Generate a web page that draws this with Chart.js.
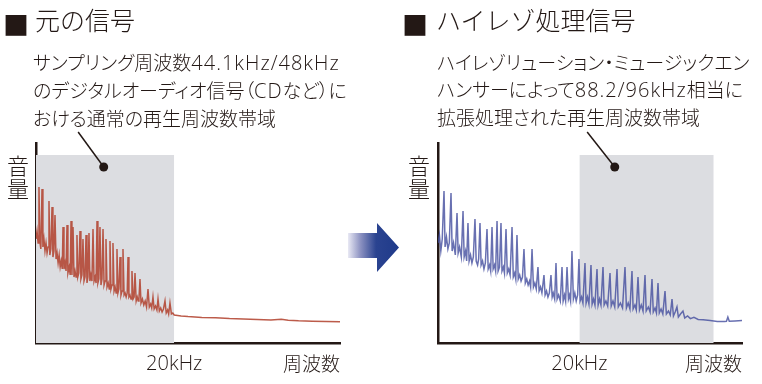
<!DOCTYPE html>
<html lang="ja">
<head>
<meta charset="utf-8">
<script src="https://cdn.jsdelivr.net/npm/chart.js"></script>
<style>
  body { margin: 0; width: 762px; height: 384px; background: #fff; position: relative; overflow: hidden;
         font-family: "Noto Sans CJK JP", sans-serif; font-weight: 300; color: #231815; }
  canvas { position: absolute; top: 0; }
  #origChart { left: 0; }
  #hiresChart { left: 380px; }
  .t { position: absolute; white-space: nowrap; z-index: 2; }
  .sq { font-size: 26px; line-height: 26px; top: 11px; font-weight: 400; }
  .title { font-size: 25px; line-height: 25px; top: 7px; }
  .note { font-size: 19px; line-height: 27px; top: 48px; font-feature-settings: "palt"; }
  .lat { font-family: "Open Sans", "Noto Sans CJK JP", sans-serif; font-size: 20px; letter-spacing: 1px; }
  .vol { font-size: 22px; line-height: 23px; top: 153px; width: 22px; text-align: center; }
  #arrow { position: absolute; left: 348px; top: 223px; width: 51px; height: 49px;
           background: linear-gradient(to right, #e9e9f4 0%, #8a90c0 25%, #2a4390 55%, #1f3a8a 100%);
           clip-path: polygon(0 10px, 29px 10px, 29px 0, 51px 24.5px, 29px 49px, 29px 35px, 0 35px); }
</style>
</head>
<body>
<div class="t sq" style="left:3px">■</div>
<div class="t title" style="left:35px">元の信号</div>
<div class="t note" style="left:33px">サンプリング周波数<span class="lat">44.1kHz/48kHz</span><br>のデジタルオーディオ信号（<span class="lat">CD</span>など）に<br>おける通常の再生周波数帯域</div>
<div class="t vol" style="left:7px">音<br>量</div>

<div class="t sq" style="left:402px">■</div>
<div class="t title" style="left:436px">ハイレゾ処理信号</div>
<div class="t note" style="left:437px">ハイレゾリューション・ミュージックエン<br>ハンサーによって<span class="lat">88.2/96kHz</span>相当に<br>拡張処理された再生周波数帯域</div>
<div class="t vol" style="left:408px">音<br>量</div>

<div id="arrow"></div>

<canvas id="origChart" width="350" height="384"></canvas>
<canvas id="hiresChart" width="382" height="384"></canvas>

<script>
// frequency in kHz, level in arbitrary units (0 = x axis, 100 = top of y axis)
const origFreq = [0.0, 0.15, 0.3, 0.43, 0.55, 0.7, 0.87, 1.0, 1.15, 1.3, 1.45, 1.6, 1.75, 1.88, 2.0, 2.15, 2.32, 2.45, 2.6, 2.75,
  2.9, 3.05, 3.2, 3.35, 3.5, 3.65, 3.8, 3.91, 4.05, 4.2, 4.35, 4.49, 4.62, 4.8, 4.95, 5.07, 5.2, 5.36, 5.5, 5.65,
  5.8, 5.93, 6.05, 6.2, 6.37, 6.5, 6.65, 6.8, 6.95, 7.1, 7.24, 7.38, 7.52, 7.67, 7.8, 7.95, 8.1, 8.25, 8.4, 8.55,
  8.7, 8.83, 8.96, 9.1, 9.26, 9.4, 9.55, 9.7, 9.85, 10.0, 10.13, 10.28, 10.45, 10.6, 10.71, 10.85, 11.0, 11.14, 11.3, 11.45,
  11.6, 11.72, 11.86, 12.0, 12.16, 12.3, 12.45, 12.59, 12.75, 12.9, 13.05, 13.2, 13.32, 13.45, 13.6, 13.75, 13.89, 14.05, 14.2, 14.33,
  14.5, 14.65, 14.8, 14.9, 15.05, 15.2, 15.4, 15.6, 15.8, 16.0, 16.21, 16.4, 16.6, 16.75, 16.93, 17.1, 17.3, 17.5, 17.66, 17.85,
  18.05, 18.25, 18.45, 18.67, 18.85, 19.05, 19.2, 19.39, 19.6, 19.8, 20.0, 20.5, 21, 22, 24, 26, 28, 30, 32, 34,
  35.5, 36.5, 38, 40, 42, 44];
const origLevel = [52, 56, 50, 78, 51, 47, 77, 48, 52, 46, 50, 45, 48, 71, 44, 47, 68, 43, 46, 64,
  42, 45, 40, 44, 38, 41, 37, 58, 37, 40, 36, 59, 35, 38, 34, 61, 34, 58, 33, 36,
  33, 54, 33, 35, 56, 32, 34, 52, 31, 33, 54, 30, 33, 55, 31, 34, 31, 57, 31, 33,
  30, 61, 30, 32, 58, 29, 32, 57, 29, 31, 52, 28, 30, 27, 51, 27, 29, 50, 26, 28,
  25, 47, 25, 27, 43, 24, 26, 47, 24, 25, 23, 25, 43, 23, 24, 22, 36, 22, 23, 35,
  21, 23, 21, 22, 32, 20, 22, 19, 21, 18, 27, 18, 19.5, 17.5, 23, 17, 18.5, 16.5, 22, 16,
  17.5, 15.5, 17, 21, 15, 16.5, 14.5, 20, 14.5, 15, 14, 13.8, 13.5, 13.2, 12.8, 12.6, 12.2, 12.0, 11.7, 11.5,
  11.9, 11.4, 11.1, 10.9, 10.7, 10.6];

const hiresFreq = [0.0, 0.2, 0.4, 0.6, 0.85, 1.0, 1.2, 1.4, 1.6, 1.84, 2.0, 2.2, 2.45, 2.69, 2.85, 3.05, 3.3, 3.54, 3.7, 3.9,
  4.05, 4.24, 4.4, 4.6, 4.8, 5.0, 5.23, 5.4, 5.6, 5.75, 5.94, 6.1, 6.3, 6.5, 6.7, 6.93, 7.1, 7.3, 7.45, 7.64,
  7.8, 8.0, 8.15, 8.35, 8.5, 8.7, 8.91, 9.05, 9.25, 9.4, 9.62, 9.8, 10.0, 10.2, 10.47, 10.65, 10.85, 11.0, 11.17, 11.35,
  11.55, 11.75, 11.95, 12.16, 12.35, 12.55, 12.75, 12.95, 13.1, 13.3, 13.5, 13.7, 13.9, 14.14, 14.3, 14.5, 14.7, 14.99, 15.15, 15.35,
  15.55, 15.75, 15.98, 16.15, 16.3, 16.5, 16.69, 16.85, 17.05, 17.3, 17.54, 17.7, 17.9, 18.05, 18.25, 18.45, 18.6, 18.75, 18.95, 19.15,
  19.35, 19.55, 19.75, 19.94, 20.1, 20.3, 20.5, 20.79, 20.95, 21.15, 21.35, 21.64, 21.8, 22.0, 22.2, 22.49, 22.65, 22.85, 23.05, 23.34,
  23.5, 23.75, 24.0, 24.33, 24.5, 24.75, 25.0, 25.32, 25.5, 25.8, 26.1, 26.45, 26.65, 26.9, 27.15, 27.44, 27.6, 27.85, 28.05, 28.29,
  28.5, 28.75, 29.0, 29.28, 29.45, 29.75, 30.0, 30.27, 30.45, 30.7, 30.9, 31.12, 31.3, 31.55, 31.8, 32.11, 32.3, 32.6, 32.85, 33.1,
  33.3, 33.55, 33.8, 34.0, 34.3, 34.65, 34.9, 35.3, 35.7, 36.2, 36.8, 37.5, 38.5, 39.5, 40.5, 40.8, 41.0, 41.2, 42.0, 43.0];
const hiresLevel = [50, 54, 46, 52, 76, 48, 53, 47, 50, 75, 46, 50, 44, 65, 45, 48, 43, 66, 43, 46,
  41, 60, 41, 44, 40, 43, 62, 41, 39, 42, 60, 39, 41, 37, 40, 57, 37, 39, 36, 58,
  37, 39, 36, 61, 36, 38, 60, 36, 38, 35, 57, 35, 37, 34, 58, 33, 35, 32, 54, 32,
  34, 31, 33, 47, 30, 32, 29, 31, 28, 47, 28, 30, 27, 38, 26, 28, 25, 34, 24, 26,
  23, 25, 34, 23, 25, 22, 40, 22, 24, 21, 38, 21, 24, 21, 38, 22, 24, 21, 46, 22,
  25, 21, 24, 42, 21, 23, 20, 40, 20, 23, 19.5, 39, 19.5, 22, 19, 37, 19, 22, 19, 38,
  19, 21, 18.5, 35, 18.5, 21, 18, 37, 18, 20, 17.5, 38, 17.5, 20, 17, 36, 17, 19, 16.5, 33,
  16.5, 19, 16, 34, 16, 18, 15.5, 32, 15.5, 17.5, 15, 30, 15, 17, 14.5, 26, 14.5, 16, 14, 22,
  13.5, 15.5, 18, 13, 14.5, 16, 12.5, 13.5, 12.2, 12.8, 11.8, 11.6, 11.2, 10.7, 10.8, 10.9, 13, 10.9, 11, 11.2];

// x tick labels: blank at origin, 20kHz mark, axis name at the end
const tickLabels = ['', '20kHz', '周波数'];

// shaded band [from, to] in kHz and its height
const origBand = [0, 20];
const hiresBand = [20, 39];
const bandTop = 94;

// callout leader: [start, dot] as kHz / level
const origCalloutFreq = [6.1, 9.8];
const hiresCalloutFreq = [21.1, 25.0];
const calloutLevel = [105.5, 88];

const ink = '#231815';
const cjk = '"Noto Sans CJK JP", sans-serif';

function makeChart(id, freq, level, color, band, calloutFreq, xMax, padLeft, padRight) {
  const ctx = document.getElementById(id).getContext('2d');
  return new Chart(ctx, {
    type: 'line',
    data: {
      datasets: [{
        data: freq.map((f, i) => ({ x: f, y: level[i] })),
        borderColor: color,
        borderWidth: 1.5,
        pointRadius: 0,
        tension: 0,
        order: 1
      }, {
        data: band.map(f => ({ x: f, y: bandTop })),
        borderWidth: 0,
        pointRadius: 0,
        backgroundColor: '#dcdde1',
        fill: 'origin',
        order: 3
      }, {
        data: calloutFreq.map((f, i) => ({ x: f, y: calloutLevel[i] })),
        borderColor: ink,
        borderWidth: 1.5,
        pointRadius: [0, 4.5],
        pointBackgroundColor: ink,
        pointBorderWidth: 0,
        clip: false,
        order: 0
      }]
    },
    options: {
      responsive: false,
      animation: false,
      layout: { padding: { top: 143, left: padLeft, right: padRight, bottom: 0 } },
      plugins: { legend: { display: false }, tooltip: { enabled: false } },
      scales: {
        x: {
          type: 'linear',
          min: 0,
          max: xMax,
          grid: { display: false, drawTicks: false },
          border: { color: ink, width: 2.5 },
          afterBuildTicks: s => { s.ticks = [0, 20, xMax].map(v => ({ value: v })); },
          afterFit: s => { s.height = 41; },
          ticks: {
            autoSkip: false,
            maxRotation: 0,
            align: 'inner',
            padding: 9,
            color: ink,
            font: c => c.index === 1
              ? { family: '"Open Sans", ' + cjk, size: 20, weight: 300 }
              : { family: cjk, size: 19, weight: 300 },
            callback: (v, i) => tickLabels[i]
          }
        },
        y: {
          min: 0,
          max: 100,
          grid: { display: false, drawTicks: false },
          border: { color: ink, width: 2.5 },
          ticks: { display: false },
          afterFit: s => { s.width = 0; }
        }
      }
    }
  });
}

makeChart('origChart', origFreq, origLevel, 'rgba(176,62,42,0.85)', origBand, origCalloutFreq, 44, 36, 10);
makeChart('hiresChart', hiresFreq, hiresLevel, 'rgba(66,76,158,0.8)', hiresBand, hiresCalloutFreq, 43, 58, 20);
</script>
</body>
</html>
